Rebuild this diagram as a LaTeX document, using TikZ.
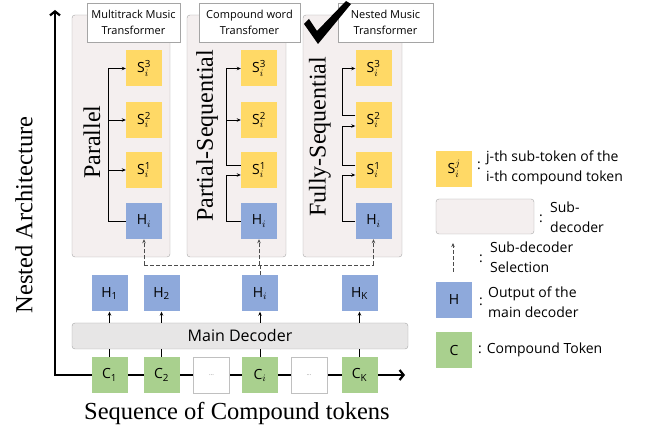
\RequirePackage{fix-cm}
\documentclass[tikz,border=0pt]{standalone}
\usepackage{amsmath}
\usepackage{fontspec}
\setmainfont{Liberation Serif}
\setsansfont{Open Sans}
\usetikzlibrary{calc,arrows.meta}

\definecolor{galben}{HTML}{FFD966}
\definecolor{albastru}{HTML}{8EA9DB}
\definecolor{verde}{HTML}{A9D08E}
\definecolor{fundal}{HTML}{F4EFEF}
\definecolor{decodor}{HTML}{E7E6E6}
\definecolor{contur}{HTML}{A5A5A5}

\tikzset{
  tok/.style={minimum size=36pt, inner sep=0pt, font=\sffamily\fontsize{14}{14}\selectfont},
  sub/.style={tok, fill=galben},
  hid/.style={tok, fill=albastru},
  cmp/.style={tok, fill=verde},
  gol/.style={tok, draw=contur!70, fill=white, font=\sffamily\fontsize{6}{6}\selectfont, text=gray},
  panou/.style={draw=contur, fill=fundal, rounded corners=3pt},
  titlu/.style={draw=contur, fill=white, align=center, inner sep=0pt,
    font=\sffamily\fontsize{11}{15.5}\selectfont},
  eticheta/.style={font=\fontsize{24.5}{24.5}\selectfont},
  stil/.style={font=\fontsize{24}{24}\selectfont, rotate=90},
  leg/.style={font=\sffamily\fontsize{14}{19.5}\selectfont, align=left, anchor=west, inner sep=0pt},
  sag/.style={-{Stealth[length=4pt,width=3.5pt]}, line width=0.8pt},
  sel/.style={dashed, dash pattern=on 4pt off 2pt, line width=1pt, draw=black!70},
  axa/.style={line width=2.2pt, {Straight Barb[length=4pt,width=10pt]}-{Straight Barb[length=4pt,width=10pt]}}
}

\begin{document}
\begin{tikzpicture}[x=1pt,y=-1pt]
  \useasboundingbox (0,0) rectangle (651,430);

  % axele
  \coordinate (Ysus) at (55,10);
  \coordinate (O) at (55,375);
  \coordinate (Xdr) at (405,375);
  \draw[axa] (Ysus) -- (O) -- (Xdr);
  \node[eticheta, rotate=90] (ny) at (24,215) {Nested Architecture};
  \node[eticheta] (nx) at (237,413) {Sequence of Compound tokens};

  % subdecodoarele
  \node[panou, minimum width=98pt, minimum height=242pt] (P1) at (121,136) {};
  \node[panou, minimum width=99pt, minimum height=242pt] (P2) at (236.5,136) {};
  \node[panou, minimum width=99pt, minimum height=242pt] (P3) at (352.5,136) {};
  \node[titlu, minimum width=93pt, minimum height=39pt] (T1) at (133.5,22.5) {Multitrack Music\\Transformer};
  \node[titlu, minimum width=101pt, minimum height=39pt] (T2) at (249.5,22.5) {Compound word\\Transfomer};
  \node[titlu, minimum width=95pt, minimum height=39pt] (T3) at (385.5,22.5) {Nested Music\\Transformer};
  \node[stil] (st1) at (92,142) {Parallel};
  \node[stil] (st2) at (207,136) {Partial-Sequential};
  \node[stil] (st3) at (320,137) {Fully-Sequential};

  \foreach \p/\x in {a/144,b/259,c/373.5} {
    \node[hid] (H\p) at (\x,221) {H$_i$};
    \node[sub] (S\p1) at (\x,170) {S$^{\textsf{1}}_i$};
    \node[sub] (S\p2) at (\x,120) {S$^{\textsf{2}}_i$};
    \node[sub] (S\p3) at (\x,68.5) {S$^{\textsf{3}}_i$};
  }

  % parallel
  \draw[sag] (Ha.west) -- ++(-17,0) |- (Sa3.west);
  \draw[sag] ($(Sa2.west)+(-17,0)$) -- (Sa2.west);
  \draw[sag] ($(Sa1.west)+(-17,0)$) -- (Sa1.west);
  % partial
  \draw[sag] (Hb.west) -- ++(-14,0) |- ([yshift=-5pt]Sb1.west);
  \draw[sag] ([yshift=5pt]Sb1.west) -- ++(-14,0) |- (Sb3.west);
  \draw[sag] ($(Sb2.west)+(-14,0)$) -- (Sb2.west);
  % fully
  \draw[sag] (Hc.west) -- ++(-13,0) |- ([yshift=-5pt]Sc1.west);
  \draw[sag] ([yshift=5pt]Sc1.west) -- ++(-13,0) |- ([yshift=-6pt]Sc2.west);
  \draw[sag] ([yshift=5pt]Sc2.west) -- ++(-13,0) |- (Sc3.west);

  % bifa
  \fill (304,24) -- (309,19) -- (317,31) -- (346,1) -- (351,4) -- (318,44) -- cycle;

  % decodorul principal
  \node[draw=contur, fill=decodor, rounded corners=3pt, minimum width=336pt, minimum height=26pt,
    font=\sffamily\fontsize{16}{16}\selectfont] (MD) at (240,336) {Main Decoder};
  \node[hid] (H1) at (109.5,293.5) {H$_{\textsf{1}}$};
  \node[hid] (H2) at (161.5,293.5) {H$_{\textsf{2}}$};
  \node[hid] (Hi) at (260,293.5) {H$_i$};
  \node[hid] (HK) at (359.5,293.5) {H$_{\textsf{K}}$};
  \node[cmp] (C1) at (109.5,375) {C$_{\textsf{1}}$};
  \node[cmp] (C2) at (161.5,375) {C$_{\textsf{2}}$};
  \node[gol] (D1) at (211.5,375) {...};
  \node[cmp] (Ci) at (260,375) {C$_i$};
  \node[gol] (D2) at (309,375) {...};
  \node[cmp] (CK) at (359.5,375) {C$_{\textsf{K}}$};
  \foreach \k in {1,2,i,K} {
    \draw[line width=0.8pt] (C\k.north) -- (C\k |- MD.south);
    \draw[sag] (H\k |- MD.north) -- (H\k.south);
  }

  % selectia
  \draw[sel] (Hi.north) -- ++(0,-10) coordinate (J);
  \draw[sel] (J -| Ha.south) -- (J -| Hc.south);
  \foreach \p in {a,b,c}
    \draw[sel, sag] (J -| H\p.south) -- (H\p.south);

  % legenda
  \node[sub] (LS) at (454,169) {S$^{j}_i$};
  \node[leg] (LSc) at (477,166) {:};
  \node[leg] (LSt) at (486,168) {j-th sub-token of the\\i-th compound token};
  \node[panou, minimum width=98pt, minimum height=35pt] (LP) at (485,216.5) {};
  \node[leg] (LPc) at (539,219) {:};
  \node[leg] (LPt) at (550,217.5) {Sub-\\decoder};
  \coordinate (La) at (453,272);
  \coordinate (Lb) at (453,243);
  \draw[sel, sag, line width=0.8pt] (La) -- (Lb);
  \node[leg] (Lsc) at (479,259) {:};
  \node[leg] (Lst) at (490,257.5) {Sub-decoder\\Selection};
  \node[hid] (LH) at (454,300) {H};
  \node[leg] (LHc) at (479,302) {:};
  \node[leg] (LHt) at (488,302) {Output of the\\main decoder};
  \node[cmp] (LC) at (454,350) {C};
  \node[leg] (LCt) at (478,350) {: Compound Token};
\end{tikzpicture}
\end{document}
